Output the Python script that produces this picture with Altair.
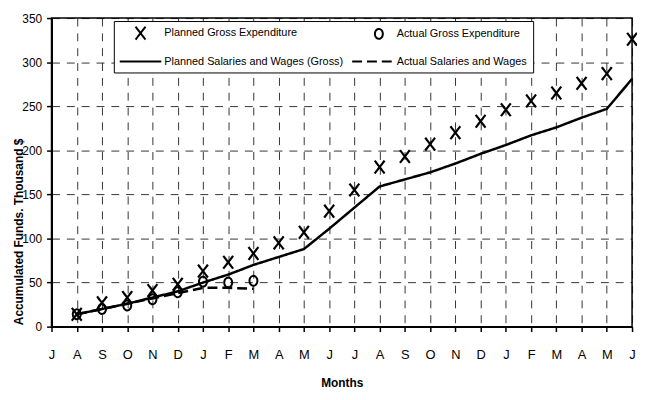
import json
import altair as alt
import pandas as pd

# ---------------- data ----------------
month_labels = ["J", "A", "S", "O", "N", "D", "J", "F", "M", "A", "M", "J",
                "J", "A", "S", "O", "N", "D", "J", "F", "M", "A", "M", "J"]

series_names = ["Planned Gross Expenditure", "Actual Gross Expenditure",
                "Planned Salaries and Wages (Gross)", "Actual Salaries and Wages"]

planned_gross_idx = list(range(1, 24))
planned_gross = [14, 27, 33, 41, 48, 63, 73, 83, 95, 107, 131, 155, 181, 193,
                 207, 220, 233, 246, 256, 265, 276, 287, 326]

actual_gross_idx = list(range(1, 9))
actual_gross = [14, 20, 24, 31, 39, 51, 50, 52]

planned_sal_idx = list(range(1, 24))
planned_sal = [14, 20, 26, 33, 40, 50, 59, 70, 79, 88, 111, 135, 159, 167,
               175, 185, 196, 206, 217, 226, 237, 247, 281]

actual_sal_idx = list(range(1, 9))
actual_sal = [14, 20, 26, 32, 38, 44, 44, 43]

y_ticks = [0, 50, 100, 150, 200, 250, 300, 350]

rows = []
for name, idxs, vals in [
    (series_names[0], planned_gross_idx, planned_gross),
    (series_names[1], actual_gross_idx, actual_gross),
    (series_names[2], planned_sal_idx, planned_sal),
    (series_names[3], actual_sal_idx, actual_sal),
]:
    for i, v in zip(idxs, vals):
        rows.append({"idx": i, "value": v, "series": name})
df = pd.DataFrame(rows)

# ---------------- styling ----------------
FONT = "Liberation Sans, Arial, sans-serif"
SYM = 100            # symbol size -> half-width r = 5 px per path unit
R = 5
# legend symbols are drawn in a wide slot, so the marker paths are shifted
# to the right inside the slot; the chart points compensate with xOffset.
X_C, O_C = 3.0, 4.2
X_PATH = f"M{X_C-1},-1.3L{X_C+1},1.3M{X_C-1},1.3L{X_C+1},-1.3"
O_PATH = f"M{O_C},-1A0.8,1 0 1 1 {O_C},1A0.8,1 0 1 1 {O_C},-1Z"
LINE1 = "M-1.2,0L7.2,0"
LINE2 = "M-1.2,0L7.8,0"

shape_scale = alt.Scale(domain=series_names, range=[X_PATH, O_PATH, LINE1, LINE2])
dash_scale = alt.Scale(domain=series_names, range=[[1, 0], [1, 0], [1, 0], [10, 5]])

legend = alt.Legend(
    title=None, orient="none", legendX=63, legendY=3, columns=2,
    direction="horizontal",
    labelFont=FONT, labelFontSize=11, labelColor="black", labelLimit=0,
    symbolStrokeColor="black", symbolStrokeWidth=2, symbolSize=SYM,
    symbolFillColor="transparent",
    fillColor="white", strokeColor="black",
    padding=6, rowPadding=12, columnPadding=4, labelOffset=33,
)

x_enc = alt.X(
    "idx:Q",
    scale=alt.Scale(domain=[0, 23], nice=False, zero=False),
    axis=alt.Axis(
        values=list(range(len(month_labels))),
        labelExpr=json.dumps(month_labels) + "[datum.value]",
        title="Months", labelPadding=17, titlePadding=17,
        labelFlush=False, labelOverlap=False, labelFontSize=13,
    ),
)
y_enc = alt.Y(
    "value:Q",
    scale=alt.Scale(domain=[0, 350], nice=False),
    axis=alt.Axis(
        values=y_ticks, title="Accumulated Funds. Thousand $",
        labelPadding=5, titleX=-29, titleY=310, titleAlign="left",
        titleBaseline="alphabetic",
    ),
)

shape_enc = alt.Shape("series:N", scale=shape_scale, legend=legend)
dash_enc = alt.StrokeDash("series:N", scale=dash_scale, legend=legend)

x_points = alt.Chart(df).transform_filter(
    alt.datum.series == series_names[0]
).mark_point(
    filled=False, stroke="black", strokeWidth=2.2, opacity=1, size=SYM,
    xOffset=-(6 + R * X_C - 6) - 0,
).encode(x=x_enc, y=y_enc, shape=shape_enc, strokeDash=dash_enc)

o_points = alt.Chart(df).transform_filter(
    alt.datum.series == series_names[1]
).mark_point(
    filled=False, stroke="black", strokeWidth=2, opacity=1, size=SYM,
    xOffset=-(R * O_C),
).encode(x=x_enc, y=y_enc, shape=shape_enc, strokeDash=dash_enc)

lines = alt.Chart(df).transform_filter(
    alt.FieldOneOfPredicate(field="series", oneOf=series_names[2:])
).mark_line(
    color="black", strokeWidth=2.5
).encode(x=x_enc, y=y_enc, strokeDash=dash_enc)

chart = alt.layer(lines, x_points, o_points).properties(
    width=587, height=312,
    autosize=alt.AutoSizeParams(type="none"),
    padding={"left": 44, "top": 8, "right": 5, "bottom": 72},
    background="white",
).configure_view(
    stroke="black", strokeWidth=1.5
).configure_axis(
    domainColor="black", domainWidth=2,
    tickColor="black", tickSize=5, tickWidth=1.5,
    grid=True, gridColor="black", gridDash=[8, 7], gridWidth=1, gridOpacity=0.8,
    labelFont=FONT, labelFontSize=12, labelColor="black",
    titleFont=FONT, titleFontSize=12, titleFontWeight="bold", titleColor="black",
)

chart.save("out.html", embed_options={"renderer": "svg", "actions": False})
